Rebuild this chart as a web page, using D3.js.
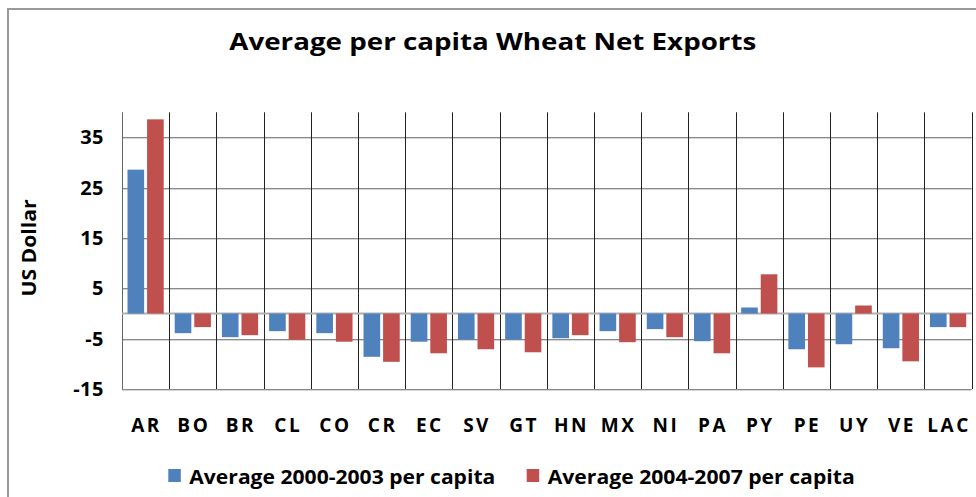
<!DOCTYPE html>
<html>
<head>
<meta charset="utf-8">
<script src="https://cdn.jsdelivr.net/npm/d3@7"></script>
<style>
  body { margin: 0; background: #fff; }
  text { font-family: "Open Sans", "DejaVu Sans", sans-serif; font-weight: bold; fill: #000; }
</style>
</head>
<body>
<div id="chart"></div>
<script>
// data
var countries = ['AR', 'BO', 'BR', 'CL', 'CO', 'CR', 'EC', 'SV', 'GT', 'HN', 'MX', 'NI', 'PA', 'PY', 'PE', 'UY', 'VE', 'LAC'];
var avg0003 = [28.6, -3.9, -4.7, -3.5, -3.9, -8.6, -5.6, -5.2, -5.2, -4.9, -3.5, -3.1, -5.5, 1.2, -7.1, -6.1, -6.9, -2.7];
var avg0407 = [38.6, -2.7, -4.3, -5.2, -5.6, -9.6, -7.9, -7.1, -7.7, -4.3, -5.7, -4.7, -7.9, 7.8, -10.7, 1.6, -9.5, -2.7];
var seriesNames = ['Average 2000-2003 per capita', 'Average 2004-2007 per capita'];
var yTicks = [-15, -5, 5, 15, 25, 35];

var colors = ['#4F81BD', '#C0504D'];
var width = 976, height = 497;

var svg = d3.select('#chart').append('svg')
    .attr('width', width)
    .attr('height', height);

// outer frame of the chart area
svg.append('path')
    .attr('d', 'M8,' + (height + 5) + ' L8,9 L' + (width + 5) + ',9')
    .attr('fill', 'none')
    .attr('stroke', '#9a9a9a')
    .attr('stroke-width', 2);

var x = d3.scaleBand().domain(countries).range([122, 971.7]).padding(0);
var xs = d3.scaleBand().domain([0, 1]).range([5.5, 41.7]).paddingInner(0.15);
var y = d3.scaleLinear().domain([-15, 40]).range([389, 112.3]);

// horizontal grid
var hg = svg.append('g');
yTicks.forEach(function(t) {
    hg.append('line')
        .attr('x1', 122).attr('x2', 971.7)
        .attr('y1', Math.round(y(t)) + 0.5).attr('y2', Math.round(y(t)) + 0.5)
        .attr('stroke', '#8a8a8a');
    hg.append('line')
        .attr('x1', 122).attr('x2', 971.7)
        .attr('y1', Math.round(y(t)) + 1.5).attr('y2', Math.round(y(t)) + 1.5)
        .attr('stroke', '#d6d6d6');
});

// vertical grid, one line per category boundary
var bounds = countries.map(function(c) { return x(c); }).concat([971.7]);
svg.append('g').selectAll('line')
    .data(bounds)
    .enter()
    .append('line')
    .attr('x1', function(d) { return Math.round(d) + 0.5; })
    .attr('x2', function(d) { return Math.round(d) + 0.5; })
    .attr('y1', y(40))
    .attr('y2', y(-15))
    .attr('stroke', function(d, i) { return i == 0 ? '#666' : '#222'; });

// zero line
svg.append('line')
    .attr('x1', 122).attr('x2', 971.7)
    .attr('y1', y(0)).attr('y2', y(0))
    .attr('stroke', '#b0b0b0')
    .attr('stroke-width', 2);

// bars
var rows = countries.map(function(c, i) { return {c: c, v: [avg0003[i], avg0407[i]]}; });
var grp = svg.append('g').selectAll('g')
    .data(rows)
    .enter()
    .append('g')
    .attr('transform', function(d) { return 'translate(' + x(d.c) + ',0)'; });

grp.selectAll('rect')
    .data(function(d) { return d.v; })
    .enter()
    .append('rect')
    .attr('x', function(d, i) { return xs(i); })
    .attr('width', xs.bandwidth())
    .attr('y', function(d) { return y(Math.max(0, d)); })
    .attr('height', function(d) { return Math.abs(y(d) - y(0)); })
    .attr('fill', function(d, i) { return colors[i]; });

// y tick labels
svg.append('g').selectAll('text')
    .data(yTicks)
    .enter()
    .append('text')
    .attr('x', 104)
    .attr('y', function(d) { return y(d) + 7; })
    .attr('text-anchor', 'end')
    .style('font-size', '20px')
    .style('letter-spacing', '0.5px')
    .text(function(d) { return d; });

// category labels
svg.append('g').selectAll('text')
    .data(countries)
    .enter()
    .append('text')
    .attr('x', function(d) { return x(d) + x.bandwidth() / 2 + 1; })
    .attr('y', 432)
    .attr('text-anchor', 'middle')
    .style('font-size', '19px')
    .style('letter-spacing', '2.5px')
    .text(function(d) { return d; });

// title
svg.append('text')
    .attr('x', 229.3)
    .attr('y', 50)
    .attr('textLength', 527)
    .attr('lengthAdjust', 'spacingAndGlyphs')
    .style('font-size', '24px')
    .text('Average per capita Wheat Net Exports');

// y axis title
svg.append('text')
    .attr('transform', 'translate(36,248) rotate(-90)')
    .attr('text-anchor', 'middle')
    .attr('textLength', 97)
    .attr('lengthAdjust', 'spacingAndGlyphs')
    .style('font-size', '19px')
    .text('US Dollar');

// legend
var legendX = [168.3, 526.7];
var legendLen = [306, 307];
var lg = svg.append('g').selectAll('g')
    .data(seriesNames)
    .enter()
    .append('g')
    .attr('transform', function(d, i) { return 'translate(' + legendX[i] + ',469)'; });
lg.append('rect')
    .attr('width', 12.5)
    .attr('height', 13)
    .attr('fill', function(d, i) { return colors[i]; });
lg.append('text')
    .attr('x', 21)
    .attr('y', 15)
    .attr('textLength', function(d, i) { return legendLen[i]; })
    .attr('lengthAdjust', 'spacingAndGlyphs')
    .style('font-size', '19px')
    .text(function(d) { return d; });
</script>
</body>
</html>
